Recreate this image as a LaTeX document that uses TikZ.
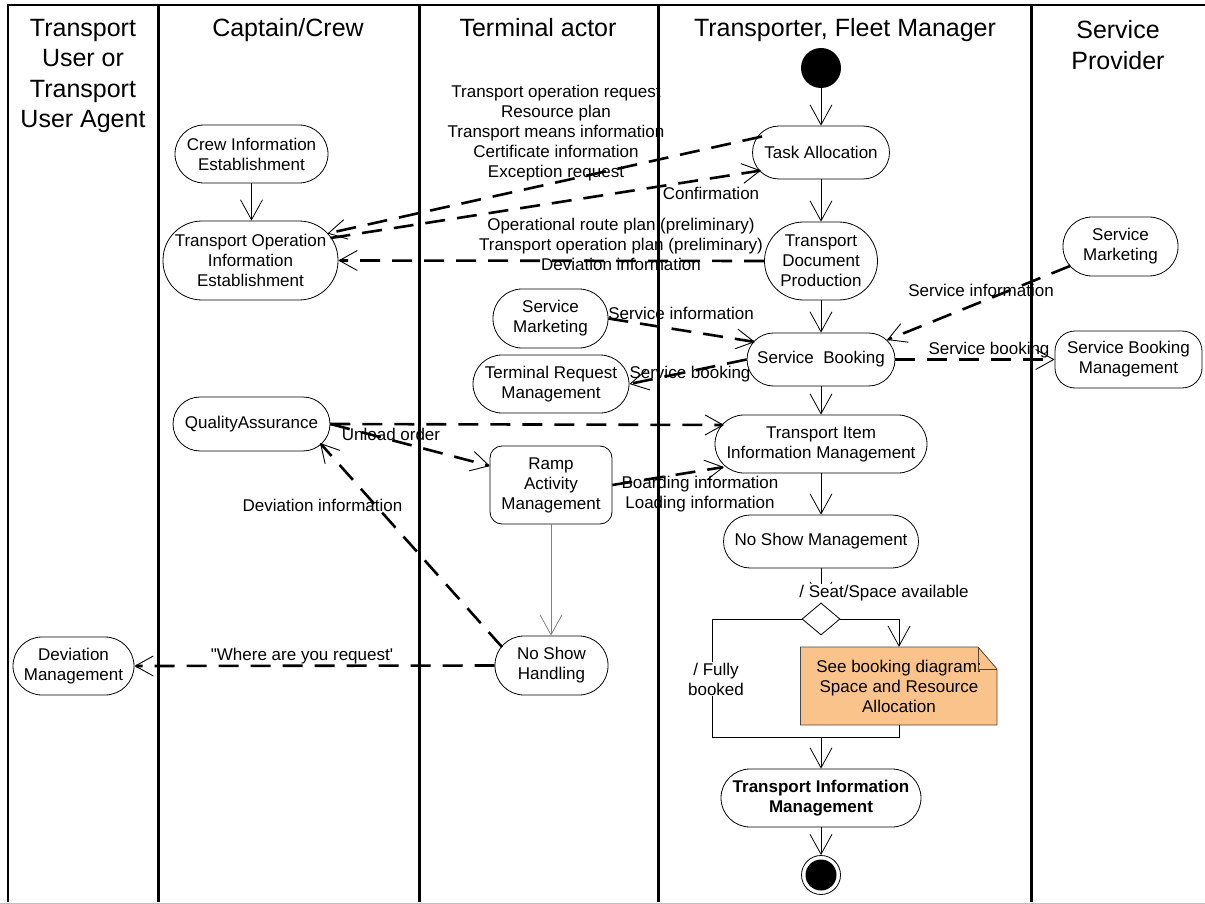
\documentclass[tikz,border=0pt]{standalone}
\usepackage{fontspec}
\setmainfont{Liberation Sans}
\newfontfamily\straightquotes{Liberation Sans}[Ligatures=TeXOff]
\usetikzlibrary{arrows.meta,shapes.geometric}
\newcommand\lblfont{\fontsize{17}{20}\selectfont}
\newcommand\hdfont{\fontsize{25}{30.5}\selectfont}
\definecolor{notefill}{RGB}{250,195,140}
\definecolor{noteline}{RGB}{80,70,60}
\begin{document}
\begin{tikzpicture}[x=1pt,y=-1pt,
  act/.style={draw, line width=0.8pt, align=center, inner sep=0pt, font=\lblfont},
  lbl/.style={align=center, inner sep=0pt, font=\lblfont},
  hdr/.style={align=center, inner sep=0pt, font=\hdfont},
  lane/.style={line width=3pt},
  flow/.style={line width=0.8pt, -{Straight Barb[length=20pt,width=22pt,line width=0.8pt]}},
  msg/.style={line width=2.6pt, dash pattern=on 20pt off 12pt,
    -{Straight Barb[length=18pt,width=20pt,line width=0.9pt]}}]
\useasboundingbox (0,0) rectangle (1205,904);

% swimlane frame
\draw[line width=2pt] (7,5) -- (1205,5);
\draw[line width=2pt] (8,5) -- (8,902);
\foreach \x in {158,419,658,1031} \draw[lane] (\x,5) -- (\x,902);
\draw[gray!50, line width=1pt] (0,903) -- (1205,903);

% lane headings
\node[hdr] (h1) at (83,76) {Transport\\User or\\Transport\\User Agent};
\node[hdr, anchor=base] (h2) at (288,36.5) {Captain/Crew};
\node[hdr, anchor=base] (h3) at (538,36.5) {Terminal actor};
\node[hdr, anchor=base] (h4) at (845,36.5) {Transporter, Fleet Manager};
\node[hdr] (h5) at (1118,45) {Service\\Provider};

% activities
\node[act, minimum width=153, minimum height=58, rounded corners=29] (cie) at (251.5,154) {Crew Information\\Establishment};
\node[act, minimum width=175, minimum height=79, rounded corners=39] (toie) at (250.5,260.5) {Transport Operation\\Information\\Establishment};
\node[act, minimum width=157, minimum height=54, rounded corners=27] (qa) at (251.5,424) {QualityAssurance};
\node[act, minimum width=121, minimum height=58, rounded corners=29] (dm) at (73.5,666) {Deviation\\Management};

\node[act, minimum width=115, minimum height=59, rounded corners=29] (smt) at (550.5,318.5) {Service\\Marketing};
\node[act, minimum width=156, minimum height=58, rounded corners=29] (trm) at (551,384) {Terminal Request\\Management};
\node[act, minimum width=122, minimum height=78, rounded corners=12] (ramp) at (551,485) {Ramp\\Activity\\Management};
\node[act, minimum width=113, minimum height=59, rounded corners=29] (nsh) at (551.5,665.5) {No Show\\Handling};

\node[circle, fill=black, minimum size=40, inner sep=0pt] (start) at (821,68) {};
\node[act, minimum width=137, minimum height=53, rounded corners=26.5] (ta) at (821,152.5) {Task Allocation};
\node[act, minimum width=113, minimum height=78, rounded corners=39] (tdp) at (821,261) {Transport\\Document\\Production};
\node[act, minimum width=148, minimum height=53, rounded corners=26.5] (sb) at (821,359.5) {Service~~Booking};
\node[act, minimum width=212, minimum height=58, rounded corners=29] (tiim) at (821,444) {Transport Item\\Information Management};
\node[act, minimum width=195, minimum height=53, rounded corners=26.5] (nsm) at (821,541.5) {No Show Management};
\node[draw, diamond, line width=0.8pt, minimum width=38, minimum height=32, inner sep=0pt] (dec) at (821,619) {};
\node[act, minimum width=200, minimum height=58, rounded corners=29, font=\lblfont\bfseries] (tim) at (821,798) {Transport Information\\Management};
\node[circle, draw, line width=0.8pt, minimum size=39, inner sep=0pt] (end) at (821,875) {};
\fill (end.center) circle (15.5pt);

\node[act, minimum width=115, minimum height=59, rounded corners=29] (smp) at (1120.5,246.5) {Service\\Marketing};
\node[act, minimum width=147, minimum height=57, rounded corners=20] (sbm) at (1128.5,359.5) {Service Booking\\Management};

% note with folded corner
\filldraw[fill=notefill, draw=noteline, line width=0.8pt] (800.5,647) -- (978,647) -- (997,669) -- (997,725) -- (800.5,725) -- cycle;
\draw[noteline, line width=0.8pt] (978,647) -- (978,669) -- (997,669);
\node[lbl, minimum width=197, minimum height=78] (note) at (899,686) {See booking diagram:\\Space and Resource\\Allocation};

% control flow
\draw[flow] (cie.south) -- (cie.south |- toie.north);
\draw[flow] (start.south) -- (start.south |- ta.north);
\draw[flow] (ta.south) -- (ta.south |- tdp.north);
\draw[flow] (tdp.south) -- (tdp.south |- sb.north);
\draw[flow] (sb.south) -- (sb.south |- tiim.north);
\draw[flow] (tiim.south) -- (tiim.south |- nsm.north);
\draw[flow] (nsm.south) -- (nsm.south |- dec.north);
\coordinate (lb) at (712,737);
\coordinate (join) at (821,737);
\draw[line width=0.8pt] (dec.west) -| (lb) -- (join);
\draw[flow] (dec.east) -| (note.north);
\draw[line width=0.8pt] (note.south) |- (join);
\draw[flow] (join) -- (tim.north);
\draw[flow] (tim.south) -- (end.north);
\draw[flow, draw=gray] (ramp.south) -- (ramp.south |- nsh.north);

% object/message flows
\draw[msg] ([shift={(-59,-16)}]ta.center) -- ([shift={(77,-27)}]toie.center);
\draw[msg] ([shift={(80,-22.5)}]toie.center) -- ([shift={(-60,18)}]ta.center);
\draw[msg] (tdp.west) -- (toie.east);
\draw[msg] (smt.east) -- ([shift={(-66,-17.5)}]sb.center);
\draw[msg] (sb.west) -- (trm.east);
\draw[msg] ([shift={(-50.5,19.5)}]smp.center) -- ([shift={(66,-19.5)}]sb.center);
\draw[msg] (sb.east) -- (sbm.west);
\draw[msg] (qa.east) -- ([shift={(-97,-19)}]tiim.center);
\draw[msg] (qa.east) -- ([shift={(-61,-19)}]ramp.center);
\draw[msg] (ramp.east) -- ([shift={(-97,23)}]tiim.center);
\draw[msg] ([shift={(-49.5,-18.5)}]nsh.center) -- ([shift={(68.5,19)}]qa.center);
\draw[msg] (nsh.west) -- (dm.east);

% flow labels
\node[lbl] (l1) at (556,133) {Transport operation request\\Resource plan\\Transport means information\\Certificate information\\Exception request};
\node[lbl] (l2) at (711,193) {Confirmation};
\node[lbl] (l3) at (621,244) {Operational route plan (preliminary)\\Transport operation plan (preliminary)\\Deviation information};
\node[lbl] (l4) at (681,313) {Service information};
\node[lbl] (l5) at (690,374) {Service booking};
\node[lbl] (l6) at (981,290) {Service information};
\node[lbl] (l7) at (989,350) {Service booking};
\node[lbl] (l8) at (391,434) {Unload order};
\node[lbl] (l9) at (700,494) {Boarding information\\Loading information};
\node[lbl] (l10) at (322.5,505) {Deviation information};
\node[lbl, font=\lblfont\straightquotes] (l11) at (302,656) {"Where are you request'};
\node[lbl, fill=white, inner sep=1pt] (l12) at (884,593) {/ Seat/Space available};
\node[lbl, fill=white, inner sep=1pt] (l13) at (716,679) {/ Fully\\booked};
\end{tikzpicture}
\end{document}
